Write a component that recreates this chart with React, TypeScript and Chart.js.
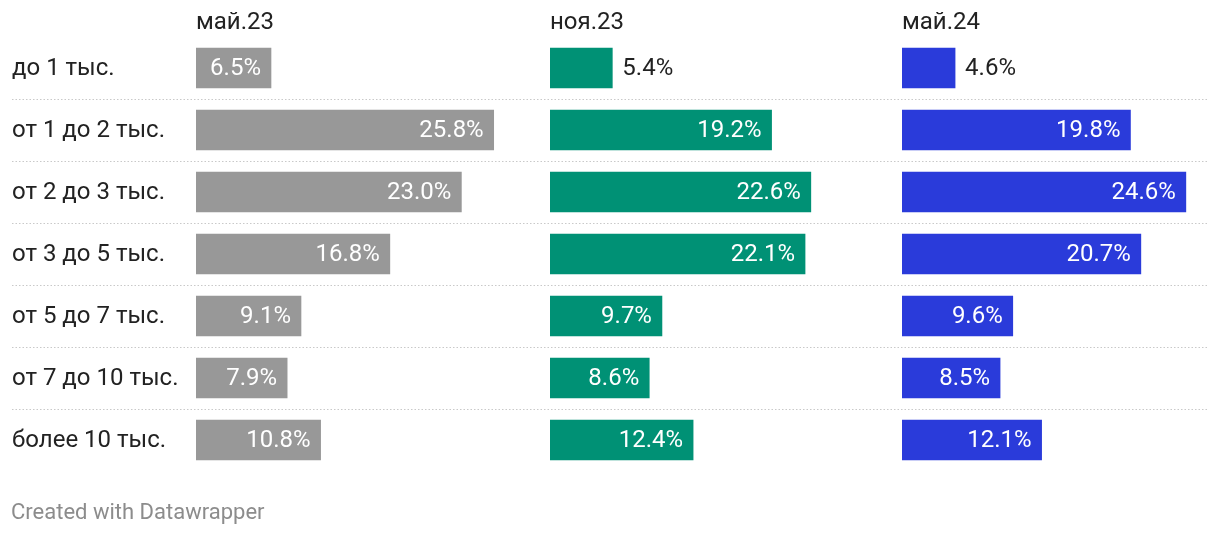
import React, { useEffect, useRef } from "react";
import { Chart, registerables } from "chart.js";

Chart.register(...registerables);

const categories = [
  "до 1 тыс.",
  "от 1 до 2 тыс.",
  "от 2 до 3 тыс.",
  "от 3 до 5 тыс.",
  "от 5 до 7 тыс.",
  "от 7 до 10 тыс.",
  "более 10 тыс.",
];

const periods = ["май.23", "ноя.23", "май.24"];

const may23 = [6.5, 25.8, 23.0, 16.8, 9.1, 7.9, 10.8];
const nov23 = [5.4, 19.2, 22.6, 22.1, 9.7, 8.6, 12.4];
const may24 = [4.6, 19.8, 24.6, 20.7, 9.6, 8.5, 12.1];

const seriesValues = [may23, nov23, may24];
const colors = ["#989898", "#009175", "#2a3bda"];

const footerText = "Created with Datawrapper";

// axis ranges (percent) for each panel
const axisMax = [30.68, 30.5, 26.52];
const panelWeights = [354, 352, 306];

const FONT = "Roboto, 'Noto Sans', sans-serif";
const SIZE = 24;

const separatorPlugin = {
  id: "rowSeparators",
  beforeDatasetsDraw(chart: any) {
    const y = chart.scales.y;
    const { ctx, width } = chart;
    ctx.save();
    ctx.strokeStyle = "#c9c9c9";
    ctx.lineWidth = 1;
    ctx.setLineDash([1.5, 2]);
    for (let i = 0; i < categories.length - 1; i++) {
      const py = Math.round((y.getPixelForValue(i) + y.getPixelForValue(i + 1)) / 2) + 0.5;
      ctx.beginPath();
      ctx.moveTo(12, py);
      ctx.lineTo(width - 12, py);
      ctx.stroke();
    }
    ctx.restore();
  },
};

const valueLabelPlugin = {
  id: "valueLabels",
  afterDatasetsDraw(chart: any) {
    const { ctx } = chart;
    ctx.save();
    ctx.font = `${SIZE}px ${FONT}`;
    ctx.textBaseline = "middle";
    chart.data.datasets.forEach((ds: any, di: number) => {
      const meta = chart.getDatasetMeta(di);
      meta.data.forEach((bar: any, i: number) => {
        const text = ds.data[i].toFixed(1) + "%";
        const tw = ctx.measureText(text).width;
        const barW = bar.x - bar.base;
        if (tw + 20 <= barW) {
          ctx.fillStyle = "#ffffff";
          ctx.textAlign = "right";
          ctx.fillText(text, bar.x - 10, bar.y + 1);
        } else {
          ctx.fillStyle = "#222222";
          ctx.textAlign = "left";
          ctx.fillText(text, bar.x + 10, bar.y + 1);
        }
      });
    });
    ctx.restore();
  },
};

const footerPlugin = {
  id: "footer",
  afterDraw(chart: any) {
    const { ctx } = chart;
    ctx.save();
    ctx.font = `22px ${FONT}`;
    ctx.fillStyle = "#8c8c8c";
    ctx.textAlign = "left";
    ctx.textBaseline = "middle";
    ctx.fillText(footerText, 11, 513);
    ctx.restore();
  },
};

export default function App() {
  const canvasRef = useRef<HTMLCanvasElement | null>(null);

  useEffect(() => {
    if (!canvasRef.current) return;
    const xScales: any = {};
    // top boxes are laid out in reverse order, so define them last-to-first
    for (let i = periods.length - 1; i >= 0; i--) {
      xScales["x" + i] = {
        type: "linear",
        position: "top",
        stack: "panels",
        stackWeight: panelWeights[i],
        min: 0,
        max: axisMax[i],
        ticks: { display: false },
        grid: { display: false },
        border: { display: false },
        title: {
          display: true,
          text: periods[i],
          align: "start",
          color: "#222222",
          font: { family: FONT, size: SIZE },
          padding: { top: 9, bottom: 0 },
        },
        afterFit(scale: any) {
          scale.height = 37;
        },
      };
    }

    const chart = new Chart(canvasRef.current, {
      type: "bar",
      data: {
        labels: categories,
        datasets: seriesValues.map((vals, i) => ({
          label: periods[i],
          data: vals,
          xAxisID: "x" + i,
          yAxisID: "y",
          backgroundColor: colors[i],
          borderWidth: 0,
          barThickness: 40,
          grouped: false,
        })),
      },
      options: {
        indexAxis: "y",
        animation: false,
        responsive: false,
        devicePixelRatio: 1,
        layout: { padding: { left: 12, right: 12, top: 0, bottom: 65 } },
        plugins: {
          legend: { display: false },
          tooltip: { enabled: false },
          title: { display: false },
        },
        scales: {
          ...xScales,
          y: {
            type: "category",
            position: "left",
            grid: { display: false },
            border: { display: false },
            ticks: {
              crossAlign: "far",
              padding: 0,
              labelOffset: 1,
              color: "#222222",
              font: { family: FONT, size: SIZE },
            },
            afterFit(scale: any) {
              scale.width = 184;
            },
          },
        },
      },
      plugins: [separatorPlugin, valueLabelPlugin, footerPlugin],
    } as any);
    return () => chart.destroy();
  }, []);

  return (
    <div style={{ position: "fixed", left: 0, top: 0, width: 1220, height: 536, background: "#fff" }}>
      <canvas ref={canvasRef} width={1220} height={536} style={{ width: 1220, height: 536 }} />
    </div>
  );
}
